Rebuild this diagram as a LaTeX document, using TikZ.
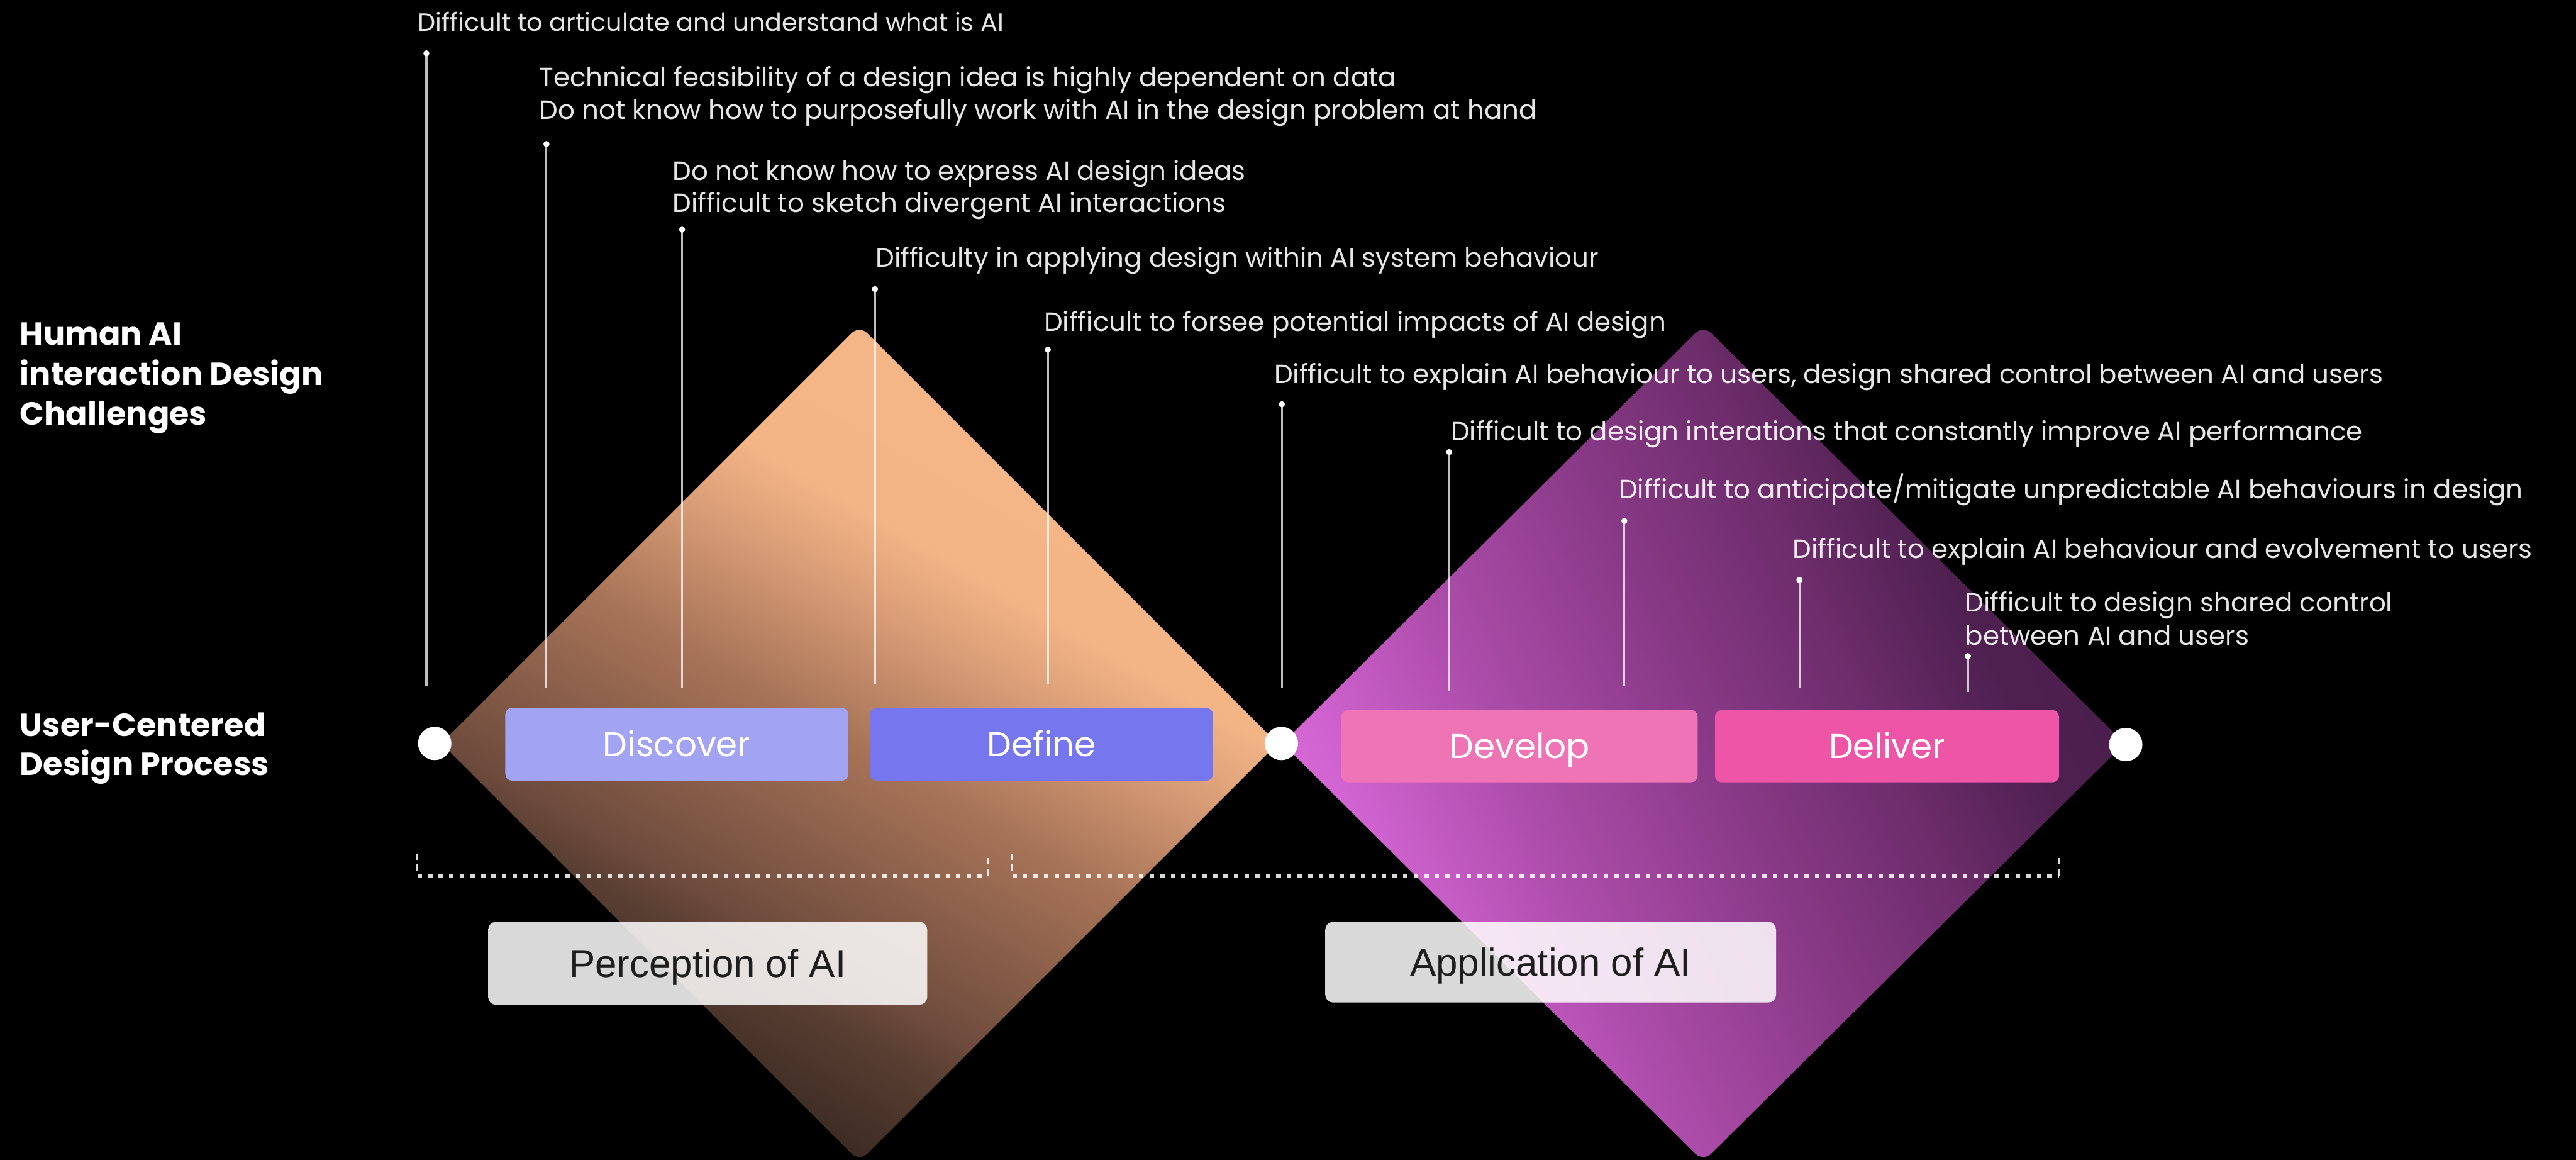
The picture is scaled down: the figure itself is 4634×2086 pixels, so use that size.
\documentclass[tikz,border=0pt]{standalone}
\usepackage{fontspec}
\setmainfont{Poppins}
\newfontfamily\phasefont{Liberation Sans}

% diamond colours
\definecolor{pk0}{HTML}{2E201A}
\definecolor{pk1}{HTML}{3B2A22}
\definecolor{pk2}{HTML}{5A3F33}
\definecolor{pk3}{HTML}{6E4B3D}
\definecolor{pk4}{HTML}{A87458}
\definecolor{pk5}{HTML}{D99D77}
\definecolor{pk6}{HTML}{F4B586}
\definecolor{pk7}{HTML}{F8BA8A}
\definecolor{pl0}{HTML}{E272E2}
\definecolor{pl1}{HTML}{DE6EDE}
\definecolor{pl2}{HTML}{CF62CF}
\definecolor{pl3}{HTML}{AE4DAC}
\definecolor{pl4}{HTML}{8A3A88}
\definecolor{pl5}{HTML}{6C2C6A}
\definecolor{pl6}{HTML}{4E2050}
\definecolor{pl7}{HTML}{381838}
% stage colours
\definecolor{discoverc}{HTML}{A3A3F4}
\definecolor{definec}{HTML}{7676EE}
\definecolor{developc}{HTML}{EE74B6}
\definecolor{deliverc}{HTML}{EE55A6}
\definecolor{phasetext}{HTML}{1E1E1E}

\pgfdeclareverticalshading{peachfade}{100bp}{color(0bp)=(pk0); color(28bp)=(pk1); color(35bp)=(pk2); color(37.5bp)=(pk3); color(50bp)=(pk4); color(57.5bp)=(pk5); color(62.5bp)=(pk6); color(100bp)=(pk7)}
\pgfdeclareverticalshading{plumfade}{100bp}{color(0bp)=(pl0); color(25bp)=(pl1); color(30bp)=(pl2); color(38.75bp)=(pl3); color(50bp)=(pl4); color(60bp)=(pl5); color(67.5bp)=(pl6); color(100bp)=(pl7)}

\tikzset{
  challenge/.style={anchor=base west, inner sep=0pt, text=white, text opacity=0.9,
    font=\fontsize{47.5}{58}\selectfont},
  heading/.style={anchor=base west, inner sep=0pt, text=white,
    font=\bfseries\fontsize{57.5}{72}\selectfont},
  leader/.style={draw=white, draw opacity=0.75, line width=3.5pt},
  stage/.style={rounded corners=12pt, inner sep=0pt, text=white,
    text height=44pt, text depth=0pt, font=\fontsize{62}{70}\selectfont},
  phase/.style={rounded corners=14pt, inner sep=0pt, fill=white, fill opacity=0.85,
    text opacity=1, text=phasetext, text height=50pt, text depth=0pt,
    font=\phasefont\fontsize{70}{80}\selectfont},
  joint/.style={circle, fill=white, inner sep=0pt, minimum size=60pt},
  brackh/.style={draw=white, draw opacity=0.85, line width=6pt, dash pattern=on 8pt off 11pt},
  brackv/.style={draw=white, draw opacity=0.85, line width=3pt, dash pattern=on 12pt off 8pt}
}

\begin{document}
\begin{tikzpicture}[x=1pt, y=-1pt]
\fill[black] (0,0) rectangle (4634,2086);
\useasboundingbox (0,0) rectangle (4634,2086);

% the two diamonds of the double diamond
\shade[shading=peachfade, shading angle=-30, rounded corners=20pt]
  (1546,585) -- (2298,1337) -- (1546,2089) -- (794,1337) -- cycle;
\shade[shading=plumfade, shading angle=-65, rounded corners=20pt]
  (3064,585) -- (3822,1337) -- (3064,2089) -- (2307,1337) -- cycle;

% row headings
\node[heading] (h1) at (36,621) {Human AI};
\node[heading] (h2) at (36,693) {interaction Design};
\node[heading] (h3) at (36,764) {Challenges};
\node[heading] (u1) at (36,1324) {User-Centered};
\node[heading] (u2) at (36,1394) {Design Process};

% challenge texts
\node[challenge, font=\fontsize{45}{58}\selectfont] (c1) at (752,56) {Difficult to articulate and understand what is AI};
\node[challenge] (c2a) at (970,156)  {Technical feasibility of a design idea is highly dependent on data};
\node[challenge] (c2b) at (970,214)  {Do not know how to purposefully work with AI in the design problem at hand};
\node[challenge] (c3a) at (1210,324) {Do not know how to express AI design ideas};
\node[challenge] (c3b) at (1210,382) {Difficult to sketch divergent AI interactions};
\node[challenge] (c4)  at (1575,480) {Difficulty in applying design within AI system behaviour};
\node[challenge] (c5)  at (1878,596) {Difficult to forsee potential impacts of AI design};
\node[challenge] (c6)  at (2292,689) {Difficult to explain AI behaviour to users, design shared control between AI and users};
\node[challenge] (c7)  at (2610,792) {Difficult to design interations that constantly improve AI performance};
\node[challenge] (c8)  at (2912,897) {Difficult to anticipate/mitigate unpredictable AI behaviours in design};
\node[challenge] (c9)  at (3225,1004) {Difficult to explain AI behaviour and evolvement to users};
\node[challenge] (c10a) at (3535,1100) {Difficult to design shared control};
\node[challenge] (c10b) at (3535,1160) {between AI and users};

% leader lines with their end dots
\foreach \n/\x/\ya/\yb in {1/767/96/1233, 2/983/259/1237, 3/1227/413/1237,
    4/1574/520/1230, 5/1885/629/1230, 6/2306/727/1237, 7/2607/813/1243,
    8/2922/937/1233, 9/3237/1043/1238, 10/3540/1180/1245}{
  \coordinate (top\n) at (\x,\ya);
  \coordinate (bot\n) at (\x,\yb);
  \draw[leader] (top\n) -- (bot\n);
  \fill[white] (top\n) circle (5.5);
}

% stages of the design process
\node[stage, fill=discoverc, minimum width=617pt, minimum height=131pt] (discover) at (1217.5,1338.5) {Discover};
\node[stage, fill=definec, minimum width=617pt, minimum height=131pt] (define) at (1873.5,1338.5) {Define};
\node[stage, fill=developc, minimum width=641pt, minimum height=130pt] (develop) at (2733.5,1342) {Develop};
\node[stage, fill=deliverc, minimum width=619pt, minimum height=130pt] (deliver) at (3394.5,1342) {Deliver};

% joints of the process line
\node[joint] (start) at (782,1337) {};
\node[joint] (mid) at (2305,1337) {};
\node[joint] (end) at (3824,1339) {};

% dotted brackets
\coordinate (pa1) at (751,1535);  \coordinate (pa2) at (751,1575);
\coordinate (pa3) at (1777,1575); \coordinate (pa4) at (1777,1535);
\coordinate (qa1) at (1821,1535); \coordinate (qa2) at (1821,1575);
\coordinate (qa3) at (3704,1575); \coordinate (qa4) at (3704,1535);
\draw[brackv] (pa1) -- (pa2);
\draw[brackh] (pa2) -- (pa3);
\draw[brackv] (pa3) -- (pa4);
\draw[brackv] (qa1) -- (qa2);
\draw[brackh] (qa2) -- (qa3);
\draw[brackv] (qa3) -- (qa4);

% phases
\node[phase, minimum width=790pt, minimum height=149pt] (perception) at (1273,1732.5) {Perception of AI};
\node[phase, minimum width=811pt, minimum height=145pt] (application) at (2789.5,1730.5) {Application of AI};
\end{tikzpicture}
\end{document}
